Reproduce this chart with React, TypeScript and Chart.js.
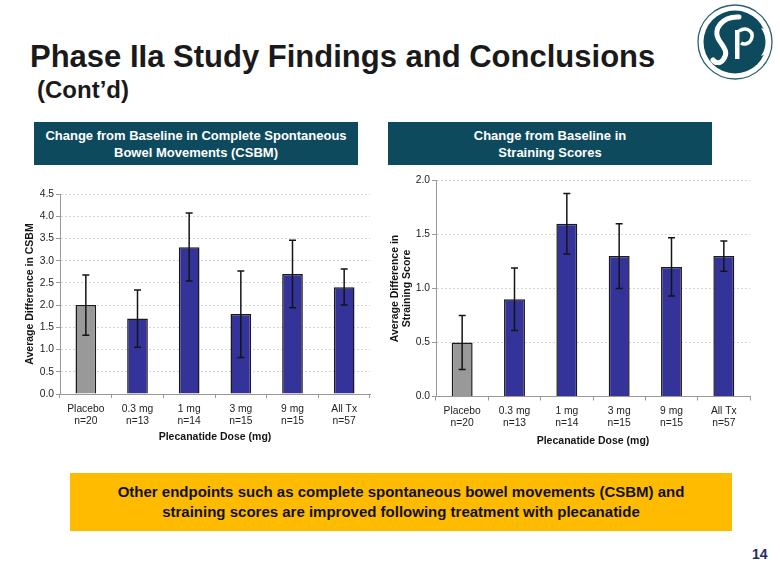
import React, { useEffect, useRef } from "react";
import { Chart, registerables } from "chart.js";

Chart.register(...registerables);

// ---- data ----
const categories: string[][] = [
  ["Placebo", "n=20"],
  ["0.3 mg", "n=13"],
  ["1 mg", "n=14"],
  ["3 mg", "n=15"],
  ["9 mg", "n=15"],
  ["All Tx", "n=57"],
];
const csbmMeans = [2.0, 1.7, 3.3, 1.8, 2.7, 2.4];
const csbmLow = [1.32, 1.05, 2.54, 0.82, 1.94, 2.0];
const csbmHigh = [2.68, 2.34, 4.07, 2.77, 3.46, 2.81];
const strainMeans = [0.5, 0.9, 1.6, 1.3, 1.2, 1.3];
const strainLow = [0.25, 0.61, 1.32, 1.0, 0.93, 1.16];
const strainHigh = [0.75, 1.19, 1.88, 1.6, 1.47, 1.44];
const barColors = ["#999999", "#333399", "#333399", "#333399", "#333399", "#333399"];
const xTitle = "Plecanatide Dose (mg)";
const csbmYTitle = "Average Difference in CSBM";
const strainYTitle = ["Average Difference in", "Straining Score"];

const FONT = "'Liberation Sans', Arial, Helvetica, sans-serif";

function makeErrorBars(low: number[], high: number[]) {
  return {
    id: "errorBars",
    afterDatasetsDraw(chart: any) {
      const { ctx } = chart;
      const x = chart.scales.x;
      const y = chart.scales.y;
      ctx.save();
      ctx.strokeStyle = "#151515";
      ctx.lineWidth = 1.5;
      low.forEach((lo, i) => {
        const px = x.getPixelForValue(i);
        const yl = y.getPixelForValue(lo);
        const yh = y.getPixelForValue(high[i]);
        ctx.beginPath();
        ctx.moveTo(px, yl);
        ctx.lineTo(px, yh);
        ctx.moveTo(px - 3.5, yl);
        ctx.lineTo(px + 3.5, yl);
        ctx.moveTo(px - 3.5, yh);
        ctx.lineTo(px + 3.5, yh);
        ctx.stroke();
      });
      ctx.restore();
    },
  };
}

type BarProps = {
  means: number[];
  low: number[];
  high: number[];
  yMax: number;
  step: number;
  yTitle: string | string[];
  left: number;
  top: number;
  width: number;
  height: number;
  padTop: number;
  padRight: number;
  yWidth: number;
  xHeight: number;
  yTitlePad: number;
  xTitlePadBottom: number;
};

function BarChart(p: BarProps) {
  const ref = useRef<HTMLCanvasElement | null>(null);
  useEffect(() => {
    if (!ref.current) return;
    const chart = new Chart(ref.current, {
      type: "bar",
      data: {
        labels: categories,
        datasets: [
          {
            data: p.means,
            backgroundColor: barColors,
            borderColor: "#1a1a1a",
            borderWidth: 1.5,
            categoryPercentage: 1,
            barPercentage: 0.4,
          },
        ],
      },
      options: {
        responsive: false,
        animation: false,
        layout: { padding: { top: p.padTop, right: p.padRight, left: 0, bottom: 0 } },
        plugins: { legend: { display: false }, tooltip: { enabled: false } },
        scales: {
          x: {
            grid: {
              display: true,
              drawOnChartArea: false,
              drawTicks: true,
              tickLength: 4,
              color: "#999999",
              tickColor: "#999999",
              offset: true,
            },
            border: { color: "#999999", width: 1 },
            ticks: {
              color: "#222222",
              font: { family: FONT, size: 10.3, lineHeight: 1.15 },
              padding: 5,
              maxRotation: 0,
              autoSkip: false,
            },
            title: {
              display: true,
              text: xTitle,
              color: "#151515",
              font: { family: FONT, size: 10.5, weight: "bold" },
              padding: { top: 0, bottom: p.xTitlePadBottom },
            },
            afterFit: (s: any) => {
              s.height = p.xHeight;
            },
          },
          y: {
            min: 0,
            max: p.yMax,
            ticks: {
              stepSize: p.step,
              color: "#222222",
              font: { family: FONT, size: 10.3 },
              padding: 2,
              callback: (v: any) => Number(v).toFixed(1),
            },
            grid: {
              color: "#d4d4d4",
              tickColor: "#999999",
              tickLength: 4,
              tickBorderDash: [],
            },
            border: { color: "#999999", width: 1, dash: [2, 2] },
            title: {
              display: true,
              text: p.yTitle,
              color: "#151515",
              font: { family: FONT, size: 10.5, weight: "bold", lineHeight: 1.2 },
              padding: { top: p.yTitlePad, bottom: 0 },
            },
            afterFit: (s: any) => {
              s.width = p.yWidth;
            },
          },
        },
      } as any,
      plugins: [makeErrorBars(p.low, p.high)],
    });
    return () => chart.destroy();
  }, []);
  return (
    <canvas
      ref={ref}
      width={p.width}
      height={p.height}
      style={{ position: "absolute", left: p.left, top: p.top, width: p.width, height: p.height }}
    />
  );
}

function Logo() {
  return (
    <svg
      width={80}
      height={80}
      viewBox="0 0 80 80"
      style={{ position: "absolute", left: 695, top: 2 }}
    >
      <circle cx={40} cy={40} r={37} fill="#ffffff" stroke="#2d6273" strokeWidth={1.3} />
      <circle cx={40} cy={40} r={31.5} fill="#0e4a5e" />
      <path
        d="M44 15 C28 14 17 27 24 38 C29 46 34 50 28 58 C25 62 20 61 18 58"
        fill="none"
        stroke="#ffffff"
        strokeWidth={5}
        strokeLinecap="round"
      />
      <rect x={40} y={28} width={4.5} height={29} fill="#ffffff" />
      <path
        d="M44 29 C52 24 60 30 56 38 C54 42 49 43 46 41"
        fill="none"
        stroke="#ffffff"
        strokeWidth={3.5}
      />
      <path d="M66 26 C72 34 72 46 66 54 L71 52 C74 44 74 34 70 27 Z" fill="#ffffff" />
    </svg>
  );
}

export default function App() {
  useEffect(() => {
    document.body.style.margin = "0";
  }, []);
  return (
    <div
      style={{
        position: "absolute",
        left: 0,
        top: 0,
        width: 780,
        height: 585,
        background: "#ffffff",
        overflow: "hidden",
        fontFamily: FONT,
      }}
    >
      <div
        style={{
          position: "absolute",
          left: 30,
          top: 37,
          fontSize: 31,
          fontWeight: "bold",
          color: "#1a1a1a",
          whiteSpace: "nowrap",
          lineHeight: "40px",
        }}
      >
        Phase IIa Study Findings and Conclusions
      </div>
      <div
        style={{
          position: "absolute",
          left: 37,
          top: 76,
          fontSize: 24,
          fontWeight: "bold",
          color: "#1a1a1a",
          whiteSpace: "nowrap",
          lineHeight: "28px",
        }}
      >
        (Cont’d)
      </div>
      <Logo />

      <div
        style={{
          position: "absolute",
          left: 34,
          top: 122,
          width: 324,
          height: 43,
          background: "#0e4a5e",
          color: "#ffffff",
          fontSize: 13,
          fontWeight: "bold",
          lineHeight: "17px",
          textAlign: "center",
          display: "flex",
          alignItems: "center",
          justifyContent: "center",
        }}
      >
        <div>
          Change from Baseline in Complete Spontaneous
          <br />
          Bowel Movements (CSBM)
        </div>
      </div>
      <div
        style={{
          position: "absolute",
          left: 388,
          top: 122,
          width: 324,
          height: 43,
          background: "#0e4a5e",
          color: "#ffffff",
          fontSize: 13,
          fontWeight: "bold",
          lineHeight: "17px",
          textAlign: "center",
          display: "flex",
          alignItems: "center",
          justifyContent: "center",
        }}
      >
        <div>
          Change from Baseline in
          <br />
          Straining Scores
        </div>
      </div>

      <BarChart
        means={csbmMeans}
        low={csbmLow}
        high={csbmHigh}
        yMax={4.5}
        step={0.5}
        yTitle={csbmYTitle}
        left={10}
        top={178}
        width={366}
        height={270}
        padTop={16}
        padRight={6}
        yWidth={50}
        xHeight={54}
        yTitlePad={14}
        xTitlePadBottom={4.7}
      />
      <BarChart
        means={strainMeans}
        low={strainLow}
        high={strainHigh}
        yMax={2.0}
        step={0.5}
        yTitle={strainYTitle}
        left={380}
        top={165}
        width={376}
        height={290}
        padTop={15.5}
        padRight={6}
        yWidth={56}
        xHeight={58.5}
        yTitlePad={8.7}
        xTitlePadBottom={7.7}
      />

      <div
        style={{
          position: "absolute",
          left: 70,
          top: 473,
          width: 662,
          height: 58,
          background: "#ffbb00",
          color: "#111111",
          fontSize: 15,
          fontWeight: "bold",
          lineHeight: "20px",
          textAlign: "center",
          display: "flex",
          alignItems: "center",
          justifyContent: "center",
        }}
      >
        <div>
          Other endpoints such as complete spontaneous bowel movements (CSBM) and
          <br />
          straining scores are improved following treatment with plecanatide
        </div>
      </div>
      <div
        style={{
          position: "absolute",
          left: 752,
          top: 546,
          fontSize: 14,
          fontWeight: "bold",
          color: "#1f2f5f",
        }}
      >
        14
      </div>
    </div>
  );
}
